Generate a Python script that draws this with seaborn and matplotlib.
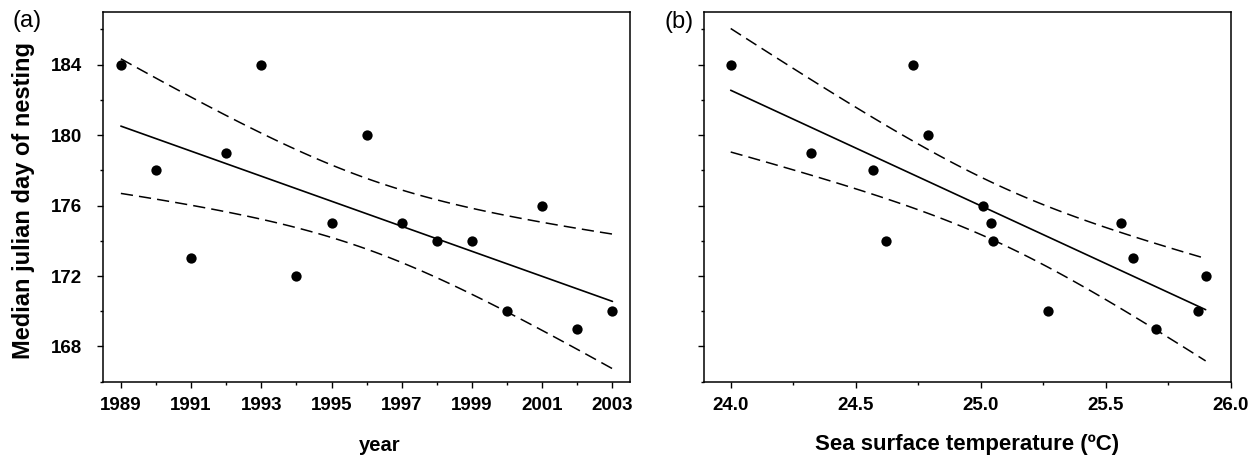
import numpy as np
import pandas as pd
import matplotlib
matplotlib.use('Agg')
import matplotlib.pyplot as plt
import seaborn as sns
from matplotlib.ticker import MultipleLocator

# panel (a): nesting date by year
years = [1989, 1990, 1991, 1992, 1993, 1994, 1995, 1996, 1997, 1998,
         1999, 2000, 2001, 2002, 2003]
nest_day_year = [184, 178, 173, 179, 184, 172, 175, 180, 175, 174,
                 174, 170, 176, 169, 170]

# panel (b): nesting date by sea surface temperature
sst = [24.00, 24.73, 24.79, 24.32, 24.57, 24.62, 25.01, 25.04, 25.05,
       25.27, 25.56, 25.61, 25.90, 25.87, 25.70]
nest_day_sst = [184, 184, 180, 179, 178, 174, 176, 175, 174,
                170, 175, 173, 172, 170, 169]

T_CRIT = 2.160  # t(0.975, df=13)


def conf_band(x, y, n_pts=100):
    """95% confidence band of the OLS mean line."""
    x = np.asarray(x, float)
    y = np.asarray(y, float)
    slope, icpt = np.polyfit(x, y, 1)
    resid = y - (slope * x + icpt)
    s = np.sqrt(np.sum(resid ** 2) / (len(x) - 2))
    xs = np.linspace(x.min(), x.max(), n_pts)
    se = s * np.sqrt(1 / len(x) + (xs - x.mean()) ** 2 / np.sum((x - x.mean()) ** 2))
    fit = slope * xs + icpt
    return xs, fit - T_CRIT * se, fit + T_CRIT * se


def draw_panel(ax, x, y):
    df = pd.DataFrame({'x': x, 'y': y})
    sns.regplot(data=df, x='x', y='y', ax=ax, ci=None, truncate=True,
                scatter_kws=dict(s=55, color='black', alpha=1, linewidths=0),
                line_kws=dict(color='black', lw=1.2))
    xs, lo, hi = conf_band(x, y)
    for band in (lo, hi):
        ax.plot(xs, band, color='black', lw=1.1, linestyle=(0, (8, 4)))
    for sp in ax.spines.values():
        sp.set_visible(True)
        sp.set_linewidth(1.1)
        sp.set_color('black')
    ax.set_ylim(166, 187)
    ax.yaxis.set_major_locator(MultipleLocator(4))
    ax.yaxis.set_minor_locator(MultipleLocator(2))
    ax.tick_params(which='both', direction='out', width=1.0, colors='black',
                   labelsize=13.5)
    ax.tick_params(which='major', length=4)
    ax.tick_params(which='minor', length=2.5)
    ax.tick_params(axis='x', pad=7)
    ax.tick_params(axis='y', pad=11)
    for lab in ax.get_xticklabels() + ax.get_yticklabels():
        lab.set_fontweight('bold')


sns.set_style('ticks')
plt.rcParams['font.family'] = ['Liberation Sans', 'DejaVu Sans']
plt.rcParams['text.color'] = 'black'
plt.rcParams['axes.labelcolor'] = 'black'

fig = plt.figure(figsize=(12.6, 4.59), dpi=100)
ax_a = fig.add_axes([0.082, 0.1684, 0.418, 0.806])
ax_b = fig.add_axes([0.5587, 0.1684, 0.418, 0.806])

draw_panel(ax_a, years, nest_day_year)
ax_a.set_xlim(1988.5, 2003.5)
ax_a.xaxis.set_minor_locator(MultipleLocator(1))
ax_a.set_xticks(years[::2])
ax_a.set_xticklabels([str(v) for v in years[::2]], fontweight='bold')
ax_a.set_yticks([168, 172, 176, 180, 184])
ax_a.set_yticklabels(['168', '172', '176', '180', '184'], fontweight='bold')
ax_a.set_xlabel('year', fontsize=14.5, fontweight='bold')
ax_a.set_ylabel('Median julian day of nesting', fontsize=17, fontweight='bold')
ax_a.xaxis.set_label_coords(0.525, -0.146)
ax_a.yaxis.set_label_coords(-0.13, 0.49)

draw_panel(ax_b, sst, nest_day_sst)
ax_b.set_xlim(23.893, 26.0)
ax_b.xaxis.set_major_locator(MultipleLocator(0.5))
ax_b.xaxis.set_minor_locator(MultipleLocator(0.25))
ax_b.xaxis.set_major_formatter(matplotlib.ticker.FormatStrFormatter('%.1f'))
ax_b.tick_params(axis='y', labelleft=False)
for lab in ax_b.get_xticklabels():
    lab.set_fontweight('bold')
ax_b.set_xlabel('Sea surface temperature (\u00baC)', fontsize=16, fontweight='bold')
ax_b.set_ylabel('')
ax_b.xaxis.set_label_coords(0.5, -0.142)

fig.text(12 / 1260, 1 - 10 / 459, '(a)', fontsize=17, ha='left', va='top')
fig.text(665 / 1260, 1 - 11 / 459, '(b)', fontsize=17, ha='left', va='top')

fig.savefig('out.png', dpi=100)
